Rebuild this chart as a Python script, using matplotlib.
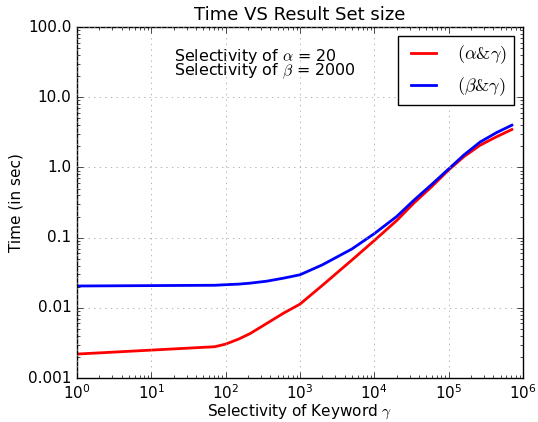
import matplotlib
matplotlib.use("Agg")
import matplotlib.pyplot as plt

plt.style.use('classic')
plt.rcParams['font.size'] = 11

# Selectivity of keyword gamma and measured times (sec)
selectivity = [1, 72, 100, 150, 213, 357, 600, 1000, 2000, 5000, 1e4, 2e4,
               3.4e4, 6e4, 1e5, 1.6e5, 2.65e5, 4.45e5, 7.1e5]
time_alpha = [0.0022, 0.0028, 0.00305, 0.0036, 0.0043, 0.006, 0.0084, 0.0113,
              0.0209, 0.048, 0.091, 0.175, 0.31, 0.54, 0.92, 1.42, 2.07, 2.75, 3.47]
time_beta = [0.0205, 0.021, 0.0214, 0.0218, 0.0225, 0.024, 0.0265, 0.0296,
             0.041, 0.069, 0.114, 0.2, 0.34, 0.58, 0.95, 1.5, 2.3, 3.15, 4.0]

yticks = [0.001, 0.01, 0.1, 1.0, 10.0, 100.0]
yticklabels = ['0.001', '0.01', '0.1', '1.0', '10.0', '100.0']

fig = plt.figure(figsize=(5.38, 4.22), dpi=100, facecolor='white')
ax = fig.add_axes([0.143, 0.104, 0.829, 0.832])

ax.plot(selectivity, time_alpha, 'r-', lw=2, label=r'$(\alpha&\gamma)$')
ax.plot(selectivity, time_beta, 'b-', lw=2, label=r'$(\beta&\gamma)$')

ax.set_xscale('log')
ax.set_yscale('log')
ax.set_xlim(1, 1e6)
ax.set_ylim(0.001, 100)
ax.set_yticks(yticks)
ax.set_yticklabels(yticklabels)
ax.grid(True, color='0.6', linestyle=':')

ax.set_title('Time VS Result Set size', fontsize=13)
ax.set_xlabel(r'Selectivity of Keyword $\gamma$', labelpad=0.5)
ax.set_ylabel('Time (in sec)', labelpad=3)

ax.text(0.217, 0.915, r'Selectivity of $\alpha$ = 20', transform=ax.transAxes,
        va='center', ha='left', fontsize=11.4)
ax.text(0.217, 0.875, r'Selectivity of $\beta$ = 2000', transform=ax.transAxes,
        va='center', ha='left', fontsize=11.4)

ax.legend(loc='upper right')

fig.savefig('out.png', dpi=100, facecolor='white')
